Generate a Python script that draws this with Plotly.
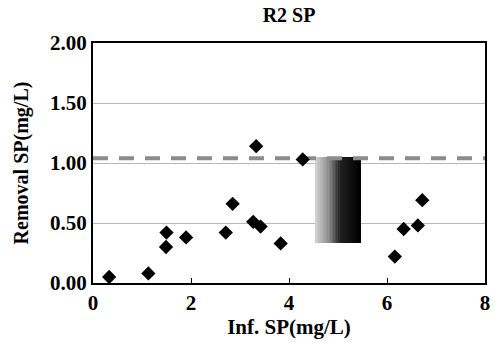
import plotly.graph_objects as go
import numpy as np

# Data
inf_sp = [0.33, 1.13, 1.49, 1.50, 1.90, 2.71, 2.85, 3.27, 3.33, 3.42, 3.83, 4.28, 6.16, 6.34, 6.63, 6.72]
removal_sp = [0.05, 0.08, 0.30, 0.42, 0.38, 0.42, 0.66, 0.51, 1.14, 0.47, 0.33, 1.03, 0.22, 0.45, 0.48, 0.69]

ref_level = 1.04
ref_x = [0, 8]

# shaded box (gradient) extents
box_x = [4.53, 5.47]
box_y = [0.33, 1.05]

x_ticks = [0, 2, 4, 6, 8]
y_ticks = [0.0, 0.5, 1.0, 1.5, 2.0]

font_family = "Liberation Serif"

fig = go.Figure()

# gradient box as heatmap (light left -> black right)
n = 30
xe = np.linspace(box_x[0], box_x[1], n + 1)
z = [list(np.linspace(0, 1, n))]
fig.add_trace(go.Heatmap(
    x=xe, y=box_y, z=z,
    colorscale=[[0, "#d0d0d0"], [0.3, "#8c8c8c"], [0.55, "#202020"], [1, "#000000"]],
    showscale=False, hoverinfo="skip", zmin=0, zmax=1,
))

fig.add_trace(go.Scatter(
    x=ref_x, y=[ref_level, ref_level], mode="lines",
    line=dict(color="#8c8c8c", width=4, dash="15px,11px"),
    showlegend=False,
))

fig.add_trace(go.Scatter(
    x=inf_sp, y=removal_sp, mode="markers",
    marker=dict(symbol="diamond", size=11, color="black"),
    showlegend=False,
))

fig.update_layout(
    width=495, height=343,
    margin=dict(l=93, r=10, t=43, b=60, autoexpand=False),
    paper_bgcolor="white", plot_bgcolor="white",
    font=dict(family=font_family, color="black", size=20),
    title=dict(text="<b>R2 SP</b>", x=0.584, xanchor="center", y=0.955, yanchor="middle",
               font=dict(size=20, family=font_family)),
    showlegend=False,
)

fig.update_xaxes(
    range=[0, 8], tickvals=x_ticks, ticktext=[f"<b>{v}</b>" for v in x_ticks],
    showline=True, linecolor="black", linewidth=2, mirror=True,
    showgrid=False, zeroline=False, automargin=False,
    ticks="inside", ticklen=5, tickcolor="black",
    tickfont=dict(size=21, family=font_family),
    title=dict(text="<b>Inf. SP(mg/L)</b>", font=dict(size=21, family=font_family), standoff=0),
)
fig.update_yaxes(
    range=[0, 2], tickvals=y_ticks, ticktext=[f"<b>{v:.2f}</b>" for v in y_ticks],
    showline=True, linecolor="black", linewidth=2, mirror=True,
    showgrid=True, gridcolor="#b8b8b8", gridwidth=1, zeroline=False, automargin=False,
    ticks="", tickfont=dict(size=21, family=font_family),
    title=dict(text="<b>Removal SP(mg/L)</b>", font=dict(size=20, family=font_family), standoff=16),
)

fig.write_html("out.html", config={"displayModeBar": False},
               post_script="document.body.style.margin='0';")
